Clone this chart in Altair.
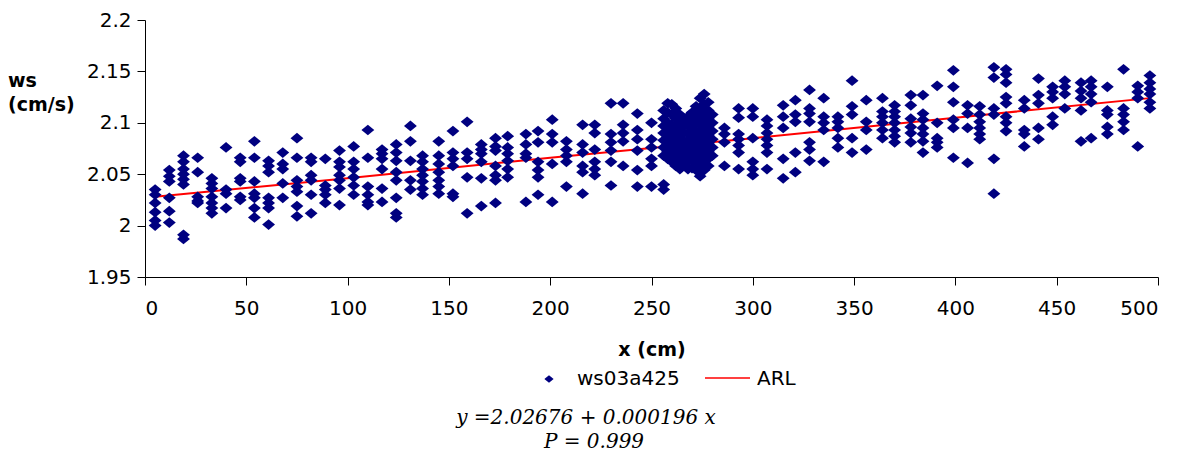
import altair as alt
import pandas as pd

# ---- scatter data: ws03a425 (x in cm, ws in cm/s), read column by column ----
col_x = [5, 12, 19, 26, 33, 40, 47, 54, 61, 68, 75, 82, 89, 96, 103, 110, 117, 124,
         131, 137, 145, 152, 159, 166, 173, 179, 188, 194, 201, 208, 216, 222, 230,
         236, 243, 250,
         256, 258, 260, 262, 264, 266, 268, 270, 272, 274, 276, 278, 280,
         286, 293, 300, 307, 315, 321, 328, 335, 342, 349, 356, 364, 370, 378, 384,
         391, 399, 406, 412, 419, 425, 434, 441, 448, 454, 462, 467, 475, 483, 490, 496]

col_y = [
    [2.035, 2.03, 2.022, 2.013, 2.005, 2.0],
    [2.054, 2.048, 2.043, 2.027, 2.014, 2.003],
    [2.068, 2.062, 2.055, 2.05, 2.045, 2.04, 1.991, 1.987],
    [2.066, 2.052, 2.028, 2.024, 2.022],
    [2.046, 2.041, 2.036, 2.028, 2.022, 2.017, 2.012],
    [2.076, 2.035, 2.031, 2.017],
    [2.066, 2.062, 2.046, 2.043, 2.028, 2.025],
    [2.082, 2.066, 2.043, 2.031, 2.027, 2.017, 2.008],
    [2.063, 2.058, 2.052, 2.027, 2.022, 2.017, 2.001],
    [2.071, 2.06, 2.055, 2.041, 2.027],
    [2.085, 2.066, 2.044, 2.038, 2.033, 2.019, 2.009],
    [2.066, 2.062, 2.049, 2.044, 2.03, 2.012],
    [2.065, 2.039, 2.035, 2.03, 2.022],
    [2.073, 2.062, 2.057, 2.049, 2.044, 2.036, 2.02],
    [2.077, 2.062, 2.055, 2.047, 2.039, 2.03],
    [2.093, 2.066, 2.038, 2.03, 2.023, 2.02],
    [2.074, 2.07, 2.065, 2.055, 2.036, 2.023],
    [2.079, 2.071, 2.063, 2.052, 2.044, 2.027, 2.012, 2.008],
    [2.097, 2.082, 2.063, 2.044, 2.035],
    [2.068, 2.062, 2.055, 2.049, 2.043, 2.036, 2.03],
    [2.082, 2.068, 2.06, 2.052, 2.044, 2.038, 2.031],
    [2.092, 2.071, 2.065, 2.058, 2.031, 2.028],
    [2.101, 2.071, 2.065, 2.047, 2.012],
    [2.079, 2.074, 2.07, 2.062, 2.046, 2.019],
    [2.085, 2.077, 2.073, 2.058, 2.049, 2.044, 2.022],
    [2.087, 2.076, 2.07, 2.063, 2.055, 2.047],
    [2.089, 2.079, 2.07, 2.066, 2.023],
    [2.092, 2.081, 2.062, 2.054, 2.047, 2.03],
    [2.103, 2.089, 2.081, 2.06, 2.023],
    [2.082, 2.074, 2.068, 2.062, 2.038],
    [2.098, 2.079, 2.071, 2.058, 2.052, 2.031],
    [2.098, 2.09, 2.074, 2.062, 2.055, 2.049],
    [2.119, 2.089, 2.081, 2.073, 2.062, 2.039],
    [2.119, 2.098, 2.09, 2.082, 2.058],
    [2.109, 2.093, 2.084, 2.073, 2.054, 2.038],
    [2.1, 2.084, 2.076, 2.065, 2.058, 2.038],
    [2.112, 2.104, 2.097, 2.09, 2.083, 2.076, 2.068, 2.04, 2.035],
    [2.119, 2.11, 2.1, 2.093, 2.086, 2.079, 2.072, 2.065],
    [2.118, 2.108, 2.098, 2.09, 2.083, 2.076, 2.069, 2.062],
    [2.114, 2.104, 2.094, 2.087, 2.08, 2.073, 2.066, 2.058],
    [2.108, 2.1, 2.092, 2.085, 2.078, 2.07, 2.062, 2.055],
    [2.104, 2.097, 2.09, 2.082, 2.075, 2.068, 2.06],
    [2.106, 2.098, 2.09, 2.083, 2.076, 2.069, 2.062, 2.055],
    [2.11, 2.102, 2.094, 2.086, 2.079, 2.072, 2.065, 2.056],
    [2.116, 2.108, 2.1, 2.092, 2.085, 2.078, 2.07, 2.062, 2.054],
    [2.124, 2.114, 2.106, 2.098, 2.09, 2.082, 2.075, 2.068, 2.06, 2.052, 2.048],
    [2.128, 2.118, 2.11, 2.102, 2.094, 2.086, 2.078, 2.07, 2.062, 2.054],
    [2.12, 2.112, 2.104, 2.096, 2.088, 2.08, 2.072, 2.065, 2.058],
    [2.108, 2.1, 2.092, 2.084, 2.076, 2.068],
    [2.095, 2.089, 2.081, 2.058],
    [2.114, 2.105, 2.089, 2.084, 2.078, 2.071, 2.055],
    [2.114, 2.106, 2.085, 2.062, 2.055, 2.049],
    [2.103, 2.097, 2.09, 2.084, 2.078, 2.071, 2.055],
    [2.117, 2.106, 2.095, 2.065, 2.046],
    [2.122, 2.108, 2.101, 2.071, 2.052],
    [2.132, 2.114, 2.109, 2.101, 2.081, 2.074, 2.063],
    [2.124, 2.106, 2.1, 2.093, 2.062],
    [2.106, 2.101, 2.095, 2.085, 2.076],
    [2.141, 2.116, 2.108, 2.085, 2.071],
    [2.122, 2.101, 2.093, 2.074],
    [2.124, 2.111, 2.106, 2.1, 2.093, 2.085],
    [2.117, 2.111, 2.106, 2.1, 2.093, 2.087, 2.081],
    [2.127, 2.117, 2.104, 2.096, 2.09, 2.081],
    [2.127, 2.109, 2.103, 2.095, 2.089, 2.082, 2.071],
    [2.136, 2.1, 2.085, 2.081, 2.076],
    [2.151, 2.135, 2.12, 2.103, 2.095, 2.066],
    [2.117, 2.109, 2.095, 2.061],
    [2.116, 2.108, 2.101, 2.095, 2.089, 2.084],
    [2.154, 2.144, 2.114, 2.108, 2.065, 2.031],
    [2.152, 2.147, 2.139, 2.125, 2.119, 2.106, 2.1, 2.092],
    [2.122, 2.114, 2.093, 2.089, 2.077],
    [2.143, 2.127, 2.119, 2.095, 2.084],
    [2.135, 2.13, 2.124, 2.106, 2.098],
    [2.141, 2.135, 2.128, 2.114],
    [2.139, 2.131, 2.124, 2.112, 2.082],
    [2.141, 2.135, 2.128, 2.12, 2.085],
    [2.135, 2.112, 2.108, 2.096, 2.089],
    [2.152, 2.114, 2.108, 2.101, 2.093],
    [2.136, 2.13, 2.124, 2.077],
    [2.146, 2.139, 2.133, 2.128, 2.12, 2.114],
]

# ---- ARL line ----
arl_x = [5, 100, 200, 300, 400, 496]
arl_y = [2.028, 2.046, 2.066, 2.085, 2.105, 2.124]

x_ticks = [0, 50, 100, 150, 200, 250, 300, 350, 400, 450, 500]
y_ticks = [1.95, 2.0, 2.05, 2.1, 2.15, 2.2]

series_name = "ws03a425"
line_name = "ARL"
equation = "y =2.02676 + 0.000196 x"
p_text = "P = 0.999"

pts_x, pts_y = [], []
for cx, ys in zip(col_x, col_y):
    for v in ys:
        pts_x.append(cx)
        pts_y.append(v)
df = pd.DataFrame({"x": pts_x, "y": pts_y})
line_df = pd.DataFrame({"x": arl_x, "y": arl_y})

# slightly wide diamond, like the Excel marker
DIAMOND = "M-1.2,0L0,-1L1.2,0L0,1Z"

xs = alt.Scale(domain=[0, 500], nice=False, zero=False)
ys_ = alt.Scale(domain=[1.95, 2.2], nice=False, zero=False)

x_axis = alt.Axis(values=x_ticks, title="x (cm)", titleFontWeight="bold",
                  titleFont="DejaVu Sans", titleFontSize=19, titlePadding=22,
                  titleColor="black", tickSize=8, labelPadding=13, format="d")
y_axis = alt.Axis(values=y_ticks, title=None, tickSize=8, labelPadding=6,
                  format=".2~f")

line = alt.Chart(line_df).mark_line(color="#FF0000", strokeWidth=2).encode(
    x=alt.X("x:Q", scale=xs, axis=x_axis), y=alt.Y("y:Q", scale=ys_, axis=y_axis)
)

points = alt.Chart(df).mark_point(
    shape=DIAMOND, filled=True, size=115, color="#000080", opacity=1
).encode(
    x=alt.X("x:Q", scale=xs),
    y=alt.Y("y:Q", scale=ys_),
)

one = pd.DataFrame({"k": [0]})


def label(text, x, y, **kw):
    return alt.Chart(one).mark_text(**kw).encode(
        x=alt.value(x), y=alt.value(y), text=alt.value(text)
    )


ytitle1 = label("ws", -137, 61, align="left", baseline="middle", font="DejaVu Sans",
                fontSize=19, fontWeight="bold", color="black")
ytitle2 = label("(cm/s)", -137, 85, align="left", baseline="middle", font="DejaVu Sans",
                fontSize=19, fontWeight="bold", color="black")

leg_sym = alt.Chart(one).mark_point(shape=DIAMOND, filled=True, size=60,
                                    color="#000080", opacity=1).encode(
    x=alt.value(404), y=alt.value(359))
leg_txt1 = label(series_name, 432, 359, align="left", baseline="middle",
                 font="DejaVu Sans", fontSize=20, color="black")
leg_line = alt.Chart(one).mark_rule(color="#FF0000", strokeWidth=1.5).encode(
    x=alt.value(560), x2=alt.value(605), y=alt.value(358))
leg_txt2 = label(line_name, 612, 359, align="left", baseline="middle",
                 font="DejaVu Sans", fontSize=20, color="black")

eq = label(equation, 441, 398, align="center", baseline="middle", font="DejaVu Serif",
           fontSize=20, fontStyle="italic", color="black")
pv = label(p_text, 449, 422, align="center", baseline="middle", font="DejaVu Serif",
           fontSize=20, fontStyle="italic", color="black")

chart = alt.layer(
    line, points, ytitle1, ytitle2, leg_sym, leg_txt1, leg_line, leg_txt2, eq, pv
).properties(
    width=1013, height=257,
    padding={"left": 137, "top": 12, "right": 20, "bottom": 180},
    autosize=alt.AutoSizeParams(type="none"),
    background="white",
).configure_view(stroke=None).configure_axis(
    grid=False, domainColor="black", tickColor="black", labelColor="black",
    labelFont="DejaVu Sans", labelFontSize=20, domainWidth=1, tickWidth=1,
)

chart.save("out.html", embed_options={"renderer": "svg", "actions": False})
